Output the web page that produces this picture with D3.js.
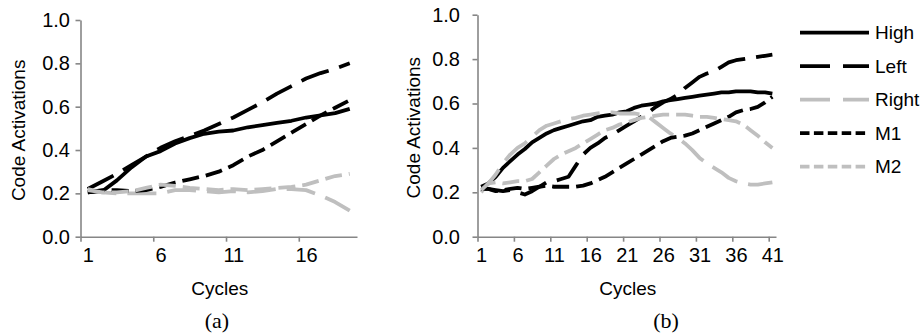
<!DOCTYPE html>
<html>
<head>
<meta charset="utf-8">
<script src="https://cdn.jsdelivr.net/npm/d3@7"></script>
<style>
  body { margin: 0; background: #fff; }
  svg { display: block; }
  .tick text, .lbl { font-family: 'Liberation Sans', Arial, sans-serif; font-size: 19px; fill: #000; }
  .cap { font-family: 'Liberation Serif', 'Times New Roman', serif; font-size: 22px; fill: #000; }
</style>
</head>
<body>
<svg id="chart" width="921" height="336"></svg>
<script>
const seriesNames = ['High', 'Left', 'Right', 'M1', 'M2']
const yTicks = [0, 0.2, 0.4, 0.6, 0.8, 1.0]

// panel (a)
const cyclesA = [1, 2, 3, 4, 5, 6, 7, 8, 9, 10, 11, 12, 13, 14, 15, 16, 17, 18, 19]
const xLabelsA = [1, 6, 11, 16]
const highA = [0.205, 0.21, 0.26, 0.32, 0.37, 0.395, 0.43, 0.455, 0.475, 0.485, 0.49, 0.505, 0.515, 0.525, 0.535, 0.55, 0.56, 0.57, 0.59]
const leftA = [0.22, 0.255, 0.29, 0.33, 0.37, 0.41, 0.44, 0.465, 0.49, 0.52, 0.55, 0.585, 0.62, 0.66, 0.695, 0.73, 0.755, 0.775, 0.80]
const rightA = [0.22, 0.205, 0.20, 0.20, 0.20, 0.20, 0.215, 0.215, 0.21, 0.205, 0.21, 0.205, 0.21, 0.22, 0.22, 0.215, 0.19, 0.16, 0.12]
const m1A = [0.205, 0.215, 0.215, 0.21, 0.215, 0.23, 0.25, 0.265, 0.28, 0.30, 0.33, 0.37, 0.40, 0.44, 0.48, 0.52, 0.56, 0.595, 0.63]
const m2A = [0.215, 0.205, 0.205, 0.21, 0.225, 0.24, 0.235, 0.225, 0.22, 0.215, 0.22, 0.215, 0.22, 0.225, 0.23, 0.24, 0.26, 0.28, 0.29]

// panel (b)
const cyclesB = [1, 2, 3, 4, 5, 6, 7, 8, 9, 10, 11, 12, 13, 14, 15, 16, 17, 18, 19, 20, 21, 22, 23, 24, 25, 26, 27, 28, 29, 30, 31, 32, 33, 34, 35, 36, 37, 38, 39, 40, 41]
const xLabelsB = [1, 6, 11, 16, 21, 26, 31, 36, 41]
const highB = [0.225, 0.24, 0.27, 0.31, 0.34, 0.37, 0.395, 0.425, 0.445, 0.465, 0.48, 0.49, 0.50, 0.51, 0.52, 0.525, 0.54, 0.545, 0.55, 0.56, 0.565, 0.58, 0.59, 0.595, 0.60, 0.61, 0.615, 0.62, 0.625, 0.63, 0.635, 0.64, 0.645, 0.65, 0.65, 0.655, 0.655, 0.655, 0.65, 0.65, 0.645]
const leftB = [0.215, 0.215, 0.21, 0.205, 0.21, 0.20, 0.19, 0.205, 0.225, 0.245, 0.25, 0.26, 0.27, 0.32, 0.37, 0.40, 0.42, 0.445, 0.46, 0.48, 0.50, 0.52, 0.54, 0.56, 0.585, 0.605, 0.62, 0.64, 0.67, 0.695, 0.72, 0.735, 0.745, 0.765, 0.785, 0.795, 0.80, 0.805, 0.81, 0.815, 0.82]
const rightB = [0.20, 0.24, 0.28, 0.33, 0.37, 0.40, 0.42, 0.45, 0.48, 0.50, 0.51, 0.52, 0.53, 0.535, 0.545, 0.55, 0.555, 0.56, 0.56, 0.555, 0.555, 0.555, 0.55, 0.54, 0.515, 0.49, 0.465, 0.445, 0.42, 0.39, 0.355, 0.33, 0.31, 0.29, 0.265, 0.25, 0.24, 0.235, 0.235, 0.24, 0.245]
const m1B = [0.215, 0.215, 0.205, 0.21, 0.215, 0.22, 0.215, 0.22, 0.225, 0.23, 0.225, 0.225, 0.225, 0.225, 0.23, 0.24, 0.255, 0.27, 0.29, 0.31, 0.33, 0.35, 0.37, 0.39, 0.41, 0.43, 0.445, 0.45, 0.455, 0.465, 0.48, 0.495, 0.51, 0.525, 0.54, 0.56, 0.57, 0.575, 0.585, 0.605, 0.63]
const m2B = [0.21, 0.24, 0.245, 0.24, 0.245, 0.25, 0.25, 0.26, 0.29, 0.32, 0.35, 0.37, 0.385, 0.40, 0.42, 0.44, 0.46, 0.48, 0.49, 0.505, 0.515, 0.525, 0.535, 0.54, 0.545, 0.55, 0.55, 0.55, 0.55, 0.545, 0.54, 0.54, 0.535, 0.53, 0.525, 0.52, 0.505, 0.48, 0.455, 0.425, 0.40]

const BLACK = '#000'
const GRAY = '#bfbfbf'
const AXIS = '#868686'

// line look per series: plot dash and legend dash
const styles = {
  High: { color: BLACK, dash: null, legendDash: null },
  Left: { color: BLACK, dash: '29,11', legendDash: '30,13' },
  Right: { color: GRAY, dash: '29,11', legendDash: '30,13' },
  M1: { color: BLACK, dash: '17,7', legendDash: '9.5,4.4' },
  M2: { color: GRAY, dash: '17,7', legendDash: '9.5,4.4' }
}

const svg = d3.select('#chart')

function drawPanel(opts) {
  const { cycles, xLabels, series, left, right, top, bottom, yPad, title, cap } = opts
  const n = cycles.length

  const xScale = d3.scaleLinear()
    .domain([0.5, n + 0.5])
    .range([left, right])

  const yScale = d3.scaleLinear()
    .domain([0, 1])
    .range([bottom, top])

  const g = svg.append('g')

  // y axis
  const leftAxis = d3.axisLeft(yScale)
    .tickValues(yTicks)
    .tickFormat(d3.format('.1f'))
    .tickSize(5)
    .tickPadding(yPad)
    .tickSizeOuter(0)

  const yAx = g.append('g')
    .attr('transform', `translate(${left}, 0)`)
    .call(leftAxis)

  // x axis tick marks sit on category boundaries every 5 cycles
  const boundaries = xLabels.map(d => d - 0.5).filter(d => d < n + 0.5)

  const bottomAxis = d3.axisBottom(xScale)
    .tickValues(boundaries)
    .tickFormat('')
    .tickSize(5)
    .tickSizeOuter(0)

  const xAx = g.append('g')
    .attr('transform', `translate(0, ${bottom})`)
    .call(bottomAxis)

  // labels centred on categories
  const labelAxis = d3.axisBottom(xScale)
    .tickValues(xLabels)
    .tickSize(0)
    .tickPadding(11)

  const xLab = g.append('g')
    .attr('transform', `translate(0, ${bottom})`)
    .call(labelAxis)
  xLab.select('.domain').remove()

  ;[yAx, xAx].forEach(ax => {
    ax.select('.domain').attr('stroke', AXIS).attr('stroke-width', 1.6)
    ax.selectAll('.tick line').attr('stroke', AXIS).attr('stroke-width', 1.6)
  })
  g.selectAll('.tick text').attr('fill', '#000').style('font-size', '20px')

  // lines
  const linegen = d3.line()
    .x((d, i) => xScale(cycles[i]))
    .y(d => yScale(d))
    .curve(d3.curveLinear)

  seriesNames.forEach(name => {
    const s = styles[name]
    g.append('path')
      .attr('d', linegen(series[name]))
      .attr('fill', 'none')
      .attr('stroke', s.color)
      .attr('stroke-width', 3.8)
      .attr('stroke-linejoin', 'round')
      .attr('stroke-dasharray', s.dash)
  })

  // axis titles
  g.append('text')
    .attr('class', 'lbl')
    .attr('text-anchor', 'middle')
    .attr('transform', `translate(${title.yx}, ${(top + bottom) / 2 + 2}) rotate(-90)`)
    .text('Code Activations')

  g.append('text')
    .attr('class', 'lbl')
    .attr('text-anchor', 'middle')
    .attr('x', (left + right) / 2 + 1)
    .attr('y', 295)
    .text('Cycles')

  g.append('text')
    .attr('class', 'cap')
    .attr('text-anchor', 'middle')
    .attr('x', cap.x)
    .attr('y', 328)
    .text(cap.text)
}

drawPanel({
  cycles: cyclesA,
  xLabels: xLabelsA,
  series: { High: highA, Left: leftA, Right: rightA, M1: m1A, M2: m2A },
  left: 80.5, right: 357, top: 20, bottom: 236.7,
  yPad: 5.5,
  title: { yx: 25 },
  cap: { x: 217, text: '(a)' }
})

drawPanel({
  cycles: cyclesB,
  xLabels: xLabelsB,
  series: { High: highB, Left: leftB, Right: rightB, M1: m1B, M2: m2B },
  left: 477.5, right: 776, top: 14.7, bottom: 236.7,
  yPad: 12.5,
  title: { yx: 420 },
  cap: { x: 666, text: '(b)' }
})

// legend
const legendY = d3.scalePoint()
  .domain(seriesNames)
  .range([32.7, 166.7])

const legend = svg.append('g')

seriesNames.forEach(name => {
  const s = styles[name]
  const y = legendY(name)
  legend.append('line')
    .attr('x1', 800).attr('x2', 869)
    .attr('y1', y).attr('y2', y)
    .attr('stroke', s.color)
    .attr('stroke-width', 3.8)
    .attr('stroke-dasharray', s.legendDash)
  legend.append('text')
    .attr('class', 'lbl')
    .attr('x', 875)
    .attr('y', y)
    .attr('dy', '0.35em')
    .text(name)
})
</script>
</body>
</html>
